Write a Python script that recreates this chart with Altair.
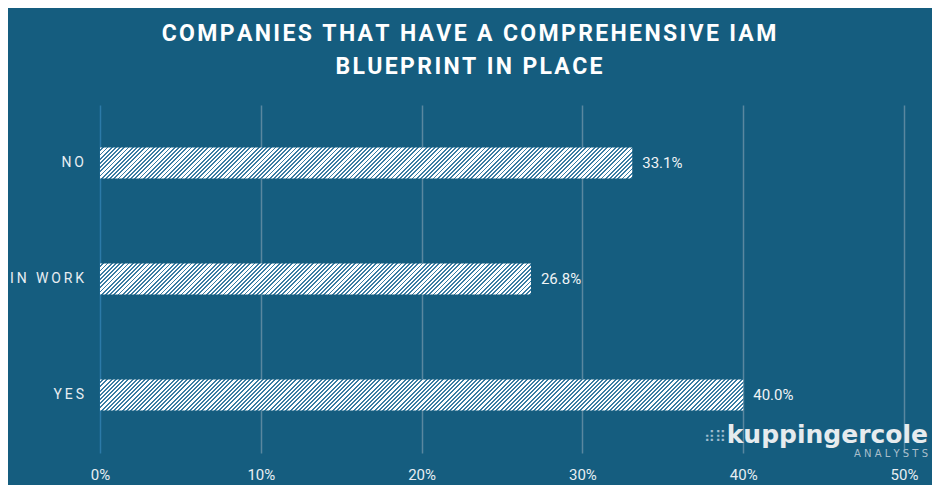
import altair as alt
import pandas as pd

categories = ["NO", "IN WORK", "YES"]
values = [33.1, 26.8, 40.0]
tick_values = [0, 10, 20, 30, 40, 50]
title_lines = ["COMPANIES THAT HAVE A COMPREHENSIVE IAM", "BLUEPRINT IN PLACE"]

BG = "#155d7f"
PLOT_W = 804
PLOT_H = 348
BAR_H = 31
X_MAX = 50

df = pd.DataFrame({"cat": categories, "val": values})
df["label"] = [f"{v:.1f}%" for v in values]
df["spaced"] = ["\u2009".join(list(c)) for c in categories]

y_enc = alt.Y("cat:N", sort=categories, axis=None,
              scale=alt.Scale(paddingInner=0.733, paddingOuter=0.367))
x_scale = alt.Scale(domain=[0, X_MAX])
x_axis = alt.Axis(values=tick_values, labelExpr="datum.value + '%'",
                  title=None, domain=False, ticks=False, grid=True, labelFlush=False,
                  gridColor={"condition": {"test": "datum.value === 0", "value": "#2c7aa8"},
                             "value": "#5a879f"},
                  gridWidth=1.5, labelPadding=14, labelFontSize=15,
                  labelColor="#e8eef2", labelFont="Roboto")


def hatch(val):
    w = val / X_MAX * PLOT_W
    h = BAR_H
    L = w + h
    s = L / w / (1 + (h / w) ** 2)
    P = 4.2
    frac = 0.55
    stops = []
    k = 0
    white = "#ffffff"
    blue = "#3a7ca3"
    while k * P < L:
        a = k * P / L
        b = min((k * P + frac * P) / L, 1)
        c = min((k + 1) * P / L, 1)
        stops += [
            {"offset": a, "color": white},
            {"offset": b, "color": white},
            {"offset": b, "color": blue},
            {"offset": c, "color": blue},
        ]
        k += 1
    return {"gradient": "linear", "x1": 0, "y1": 0, "x2": s, "y2": s * h / w,
            "stops": stops}


def spaced_title(line):
    return "\u200a".join(list(line))


bar_layers = []
for c, v in zip(categories, values):
    bar_layers.append(
        alt.Chart(df).transform_filter(alt.datum.cat == c).mark_bar(
            fill=hatch(v), size=BAR_H
        ).encode(x=alt.X("val:Q", scale=x_scale, axis=x_axis), y=y_enc)
    )

value_text = alt.Chart(df).mark_text(
    align="left", baseline="middle", dx=10, fontSize=15, font="Roboto", color="#f0f4f6"
).encode(x=alt.X("val:Q", scale=x_scale, axis=x_axis), y=y_enc, text="label:N")

cat_text = alt.Chart(df).mark_text(
    align="right", baseline="middle", fontSize=14, font="Roboto", color="#e8eef2"
).encode(x=alt.value(-16), y=y_enc, text="spaced:N")

logo_df = pd.DataFrame({"t": ["kuppingercole"], "s": ["A N A L Y S T S"], "d": ["\u283e\u283f"]})
logo = alt.Chart(logo_df).mark_text(
    align="right", baseline="alphabetic", fontSize=25, fontWeight="bold",
    font="DejaVu Sans", color="#e6ebee"
).encode(x=alt.value(828), y=alt.value(338), text="t:N")
logo_sub = alt.Chart(logo_df).mark_text(
    align="right", baseline="alphabetic", fontSize=10, font="DejaVu Sans", color="#a9bfcc"
).encode(x=alt.value(828), y=alt.value(352), text="s:N")
logo_dots = alt.Chart(logo_df).mark_text(
    align="right", baseline="alphabetic", fontSize=15, font="DejaVu Sans", color="#9fbdd0"
).encode(x=alt.value(626), y=alt.value(337), text="d:N")

chart = alt.layer(*bar_layers, value_text, cat_text, logo_dots, logo, logo_sub).properties(
    width=PLOT_W, height=PLOT_H,
    title=alt.TitleParams([spaced_title(t) for t in title_lines], anchor="middle",
                          frame="group", dx=-33, offset=26,
                          fontSize=23, font="Roboto", fontWeight="bold", color="#ffffff",
                          lineHeight=33),
    autosize=alt.AutoSizeParams(type="none"),
    padding={"left": 92, "top": 97, "right": 28, "bottom": 32},
).configure(background=BG).configure_view(stroke=None)

chart.save("out.html", embed_options={"renderer": "svg", "actions": False})
